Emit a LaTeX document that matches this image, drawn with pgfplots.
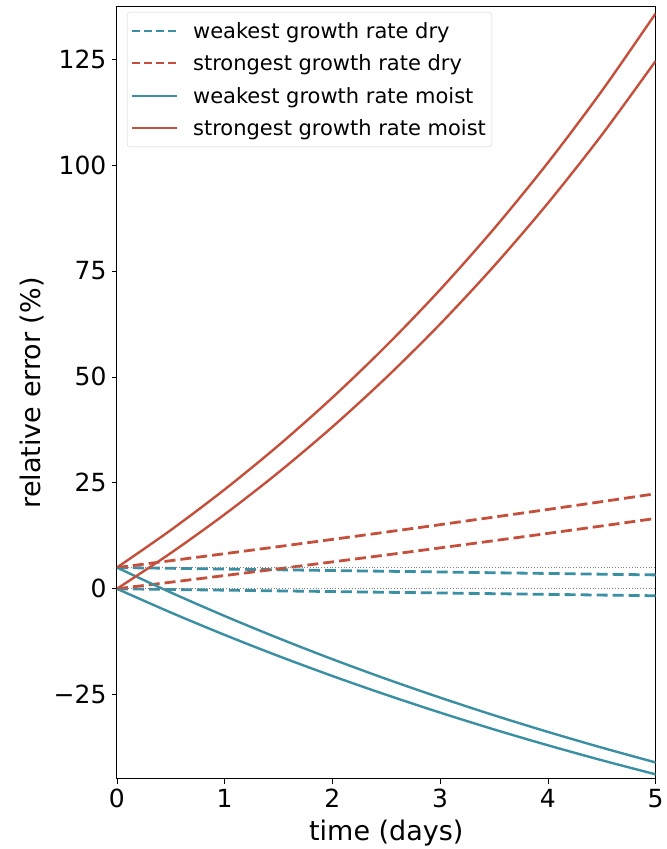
\documentclass[border=0pt]{standalone}
\usepackage{fontspec}
\setmainfont{DejaVu Sans}
\usepackage{pgfplots}
\pgfplotsset{compat=1.18}
\definecolor{wred}{RGB}{196,80,60}
\definecolor{wblue}{RGB}{58,143,163}

\begin{document}
\begin{tikzpicture}
\begin{axis}[
  scale only axis,
  width=539pt, height=772pt,
  xmin=0, xmax=5, ymin=-44.8, ymax=137.3,
  xtick={0,1,2,3,4,5},
  ytick={-25,0,25,50,75,100,125},
  yticklabels={−25,0,25,50,75,100,125},
  /pgf/number format/assume math mode=true,
  tick align=outside, tick pos=left,
  major tick length=5pt,
  tick style={black, line width=0.8pt},
  axis line style={line width=1pt},
  ticklabel style={font=\fontsize{25}{30}\selectfont},
  xticklabel style={yshift=-2pt},
  yticklabel style={xshift=-2pt},
  xlabel={time (days)},
  ylabel={relative error (\%)},
  label style={font=\fontsize{27}{32}\selectfont},
  xlabel style={at={(axis description cs:0.5,-0.07)}, anchor=center},
  ylabel style={at={(axis description cs:-0.158,0.5)}, anchor=center},
  legend cell align=left,
  legend style={at={(axis description cs:0,1)}, anchor=north west,
    xshift=10pt, yshift=-5pt, draw=gray!35, rounded corners=3pt,
    font=\fontsize{21}{25}\selectfont, row sep=11pt, inner xsep=4pt, inner ysep=8pt},
  legend image code/.code={\draw[#1] (0pt,0pt) -- (45pt,0pt); \path (58pt,0pt);},
]
% legend entries
\addlegendimage{wblue, line width=2pt, dash pattern=on 8pt off 4pt}
\addlegendentry{weakest growth rate dry}
\addlegendimage{wred, line width=2pt, dash pattern=on 8pt off 4pt}
\addlegendentry{strongest growth rate dry}
\addlegendimage{wblue, line width=1.8pt}
\addlegendentry{weakest growth rate moist}
\addlegendimage{wred, line width=1.8pt}
\addlegendentry{strongest growth rate moist}
% weakest growth rate dry
\addplot[wblue, line width=2.8pt, dash pattern=on 11pt off 5pt, smooth, forget plot] coordinates {
  (0,5) (0.5,4.83) (1,4.65) (1.5,4.48) (2,4.30) (2.5,4.13) (3,3.96) (3.5,3.78) (4,3.61) (4.5,3.44) (5,3.27)};
\addplot[wblue, line width=2.8pt, dash pattern=on 11pt off 5pt, smooth, forget plot] coordinates {
  (0,0) (0.5,-0.17) (1,-0.33) (1.5,-0.50) (2,-0.66) (2.5,-0.83) (3,-0.99) (3.5,-1.16) (4,-1.32) (4.5,-1.49) (5,-1.65)};
% strongest growth rate dry
\addplot[wred, line width=2.8pt, dash pattern=on 11pt off 5pt, smooth, forget plot] coordinates {
  (0,5) (0.5,6.63) (1,8.28) (1.5,9.95) (2,11.65) (2.5,13.38) (3,15.13) (3.5,16.92) (4,18.72) (4.5,20.56) (5,22.43)};
\addplot[wred, line width=2.8pt, dash pattern=on 11pt off 5pt, smooth, forget plot] coordinates {
  (0,0) (0.5,1.55) (1,3.12) (1.5,4.72) (2,6.34) (2.5,7.98) (3,9.65) (3.5,11.35) (4,13.07) (4.5,14.82) (5,16.60)};
% weakest growth rate moist
\addplot[wblue, line width=2.4pt, smooth, forget plot] coordinates {
  (0,5) (0.5,-0.88) (1,-6.43) (1.5,-11.67) (2,-16.62) (2.5,-21.29) (3,-25.69) (3.5,-29.86) (4,-33.78) (4.5,-37.49) (5,-40.99)};
\addplot[wblue, line width=2.4pt, smooth, forget plot] coordinates {
  (0,0) (0.5,-5.60) (1,-10.89) (1.5,-15.88) (2,-20.59) (2.5,-25.03) (3,-29.23) (3.5,-33.20) (4,-36.94) (4.5,-40.47) (5,-43.80)};
% strongest growth rate moist
\addplot[wred, line width=2.4pt, smooth, forget plot] coordinates {
  (0,5) (0.5,13.85) (1,23.44) (1.5,33.84) (2,45.12) (2.5,57.35) (3,70.60) (3.5,84.98) (4,100.56) (4.5,117.47) (5,135.79)};
\addplot[wred, line width=2.4pt, smooth, forget plot] coordinates {
  (0,0) (0.5,8.43) (1,17.56) (1.5,27.47) (2,38.21) (2.5,49.86) (3,62.48) (3.5,76.17) (4,91.01) (4.5,107.11) (5,124.56)};
% reference levels
\addplot[gray, line width=0.8pt, dotted, forget plot] coordinates {(0,5) (5,5)};
\addplot[gray, line width=0.8pt, dotted, forget plot] coordinates {(0,0) (5,0)};
\end{axis}
\path (current axis.south west) ++(-117pt,-70pt) rectangle ++(665pt,849pt);
\end{tikzpicture}
\end{document}
